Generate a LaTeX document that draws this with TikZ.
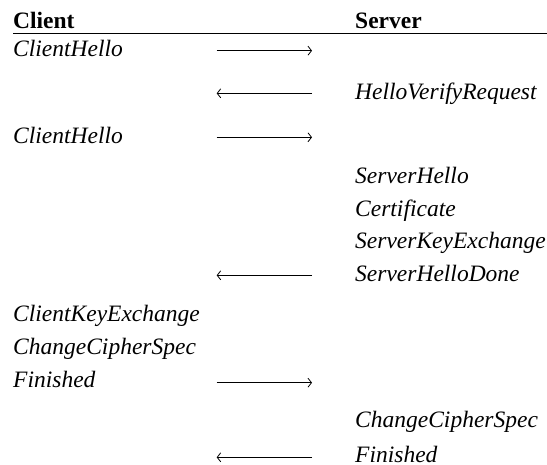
\documentclass[tikz,border=0pt]{standalone}
\usepackage{fontspec}
\setmainfont{Liberation Serif}
\usetikzlibrary{arrows.meta}
\begin{document}
\begin{tikzpicture}[x=1pt,y=-1pt,
  lbl/.style={anchor=base west,inner sep=0pt,font=\fontsize{23.5}{28}\selectfont\itshape},
  hdr/.style={anchor=base west,inner sep=0pt,font=\fontsize{23.5}{28}\selectfont\bfseries},
  msg/.style={line width=0.8pt,-{Straight Barb[length=3.5pt,width=9pt,line width=0.8pt]}}]
\useasboundingbox (0,0) rectangle (547,465);
% headers
\node[hdr] (hc) at (13,29) {Client};
\node[hdr] (hs) at (355,29) {Server};
\coordinate (rl) at (13,33.5);
\coordinate (rr) at (547,33.5);
\draw[line width=0.9pt] (rl) -- (rr);
% client column
\node[lbl] (c1) at (13,57) {ClientHello};
\node[lbl] (c2) at (13,143.5) {ClientHello};
\node[lbl] (c3) at (13,322) {ClientKeyExchange};
\node[lbl] (c4) at (13,355) {ChangeCipherSpec};
\node[lbl] (c5) at (13,387.5) {Finished};
% server column
\node[lbl] (s1) at (355,99.5) {HelloVerifyRequest};
\node[lbl] (s2) at (355,183.7) {ServerHello};
\node[lbl] (s3) at (355,216.3) {Certificate};
\node[lbl] (s4) at (355,248.9) {ServerKeyExchange};
\node[lbl] (s5) at (355,281.5) {ServerHelloDone};
\node[lbl] (s6) at (355,427.5) {ChangeCipherSpec};
\node[lbl,text depth=0pt] (s7) at (355,462.5) {Finished};
% arrows
\coordinate (a1l) at (216.7,50.7); \coordinate (a1r) at (312,50.7);
\coordinate (a2l) at (216.7,93.3); \coordinate (a2r) at (312,93.3);
\coordinate (a3l) at (216.7,137.3); \coordinate (a3r) at (312,137.3);
\coordinate (a4l) at (216.7,275.3); \coordinate (a4r) at (312,275.3);
\coordinate (a5l) at (216.7,382.7); \coordinate (a5r) at (312,382.7);
\coordinate (a6l) at (216.7,457.3); \coordinate (a6r) at (312,457.3);
\draw[msg] (a1l) -- (a1r);
\draw[msg] (a2r) -- (a2l);
\draw[msg] (a3l) -- (a3r);
\draw[msg] (a4r) -- (a4l);
\draw[msg] (a5l) -- (a5r);
\draw[msg] (a6r) -- (a6l);
\end{tikzpicture}
\end{document}
